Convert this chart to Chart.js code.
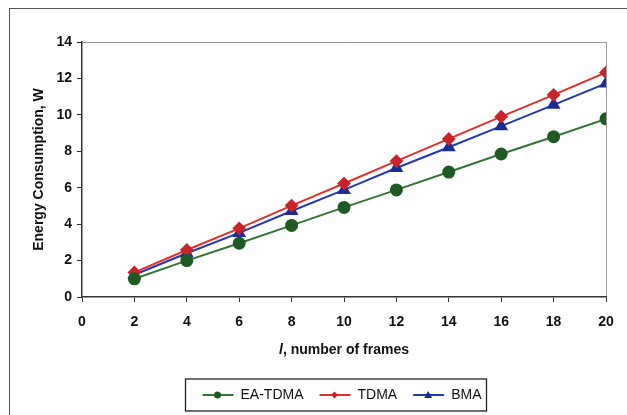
<!DOCTYPE html>
<html>
<head>
<meta charset="utf-8">
<script src="https://cdn.jsdelivr.net/npm/chart.js@4/dist/chart.umd.min.js"></script>
<style>
    html, body { margin: 0; padding: 0; background: #fff; overflow: hidden; }
    #wrap { position: relative; width: 627px; height: 415px; overflow: hidden; }
    #frame { position: absolute; left: 9px; top: 8px; width: 700px; height: 420px; border-top: 1.5px solid #555; border-left: 1.5px solid #555; box-sizing: border-box; }
    canvas { position: absolute; left: 0; top: 0; }
</style>
</head>
<body>
<div id="wrap">
    <div id="frame"></div>
    <canvas id="grafico1" width="627" height="415"></canvas>
</div>
<script>
const frames = [2, 4, 6, 8, 10, 12, 14, 16, 18, 20];
const eaTdma = [1.0, 2.0, 2.95, 3.93, 4.92, 5.88, 6.86, 7.85, 8.8, 9.78];
const tdma = [1.35, 2.58, 3.77, 5.02, 6.23, 7.46, 8.68, 9.9, 11.1, 12.33];
const bma = [1.22, 2.4, 3.52, 4.72, 5.88, 7.08, 8.22, 9.38, 10.55, 11.72];
const seriesNames = ['EA-TDMA', 'TDMA', 'BMA'];
const yTicks = [0, 2, 4, 6, 8, 10, 12, 14];
const xTicks = [0, 2, 4, 6, 8, 10, 12, 14, 16, 18, 20];

const fontFam = '"Liberation Sans Narrow", "Liberation Sans", Arial, sans-serif';

function pts(vals) {
    return frames.map((f, i) => ({ x: f, y: vals[i] }));
}

// mueve la leyenda para centrarla bajo el area del grafico
const legendShift = {
    id: 'legendShift',
    afterLayout(chart) {
        const lg = chart.legend;
        if (!lg) return;
        const a = chart.chartArea;
        const dx = (a.left + a.right) / 2 - (lg.left + lg.right) / 2 - 2;
        lg.left += dx;
        lg.right += dx;
        lg.legendHitBoxes.forEach(b => { b.left += dx; });
    }
};

// caja alrededor de la leyenda y marcadores sobre las lineas
const legendBox = {
    id: 'legendBox',
    afterDraw(chart) {
        const lg = chart.legend;
        if (!lg || !lg.legendHitBoxes.length) return;
        const c = chart.ctx;
        const boxes = lg.legendHitBoxes;
        const first = boxes[0], last = boxes[boxes.length - 1];
        c.save();
        c.strokeStyle = '#222';
        c.lineWidth = 1.3;
        c.strokeRect(first.left - 17, first.top - 9, last.left + last.width - first.left + 22, first.height + 18);
        boxes.forEach((b, i) => {
            const ds = chart.data.datasets[i];
            const cx = b.left + 15, cy = b.top + b.height / 2;
            c.fillStyle = ds.pointBackgroundColor;
            c.beginPath();
            if (ds.pointStyle === 'circle') {
                c.arc(cx, cy, 3.5, 0, Math.PI * 2);
            } else if (ds.pointStyle === 'rectRot') {
                c.moveTo(cx, cy - 3.5); c.lineTo(cx + 3.5, cy); c.lineTo(cx, cy + 3.5); c.lineTo(cx - 3.5, cy);
            } else {
                c.moveTo(cx, cy - 4); c.lineTo(cx + 4, cy + 3); c.lineTo(cx - 4, cy + 3);
            }
            c.closePath();
            c.fill();
        });
        c.restore();
    }
};

// titulo del eje x con la l en cursiva
const xTitle = {
    id: 'xTitle',
    afterDraw(chart) {
        const c = chart.ctx;
        const a = chart.chartArea;
        const cx = (a.left + a.right) / 2;
        const y = 350;
        c.save();
        c.fillStyle = '#111';
        c.textBaseline = 'middle';
        const f1 = 'italic bold 14px ' + fontFam;
        const f2 = 'bold 14px ' + fontFam;
        c.font = f1;
        const w1 = c.measureText('l').width;
        c.font = f2;
        const rest = ', number of frames';
        const w2 = c.measureText(rest).width;
        const x0 = cx - (w1 + w2) / 2;
        c.font = f1;
        c.textAlign = 'left';
        c.fillText('l', x0, y);
        c.font = f2;
        c.fillText(rest, x0 + w1, y);
        c.restore();
    }
};

const ctx = document.getElementById('grafico1').getContext('2d');
const grafico1 = new Chart(ctx, {
    type: 'line',
    data: {
        datasets: [{
            label: seriesNames[0],
            data: pts(eaTdma),
            borderColor: '#347534',
            backgroundColor: '#347534',
            pointBackgroundColor: '#1f5a22',
            pointBorderColor: '#1f5a22',
            pointStyle: 'circle',
            pointRadius: 5.5,
            borderWidth: 2
        }, {
            label: seriesNames[1],
            data: pts(tdma),
            borderColor: '#e0302c',
            backgroundColor: '#e0302c',
            pointBackgroundColor: '#c8242a',
            pointBorderColor: '#c8242a',
            pointStyle: 'rectRot',
            pointRadius: 5.5,
            borderWidth: 2
        }, {
            label: seriesNames[2],
            data: pts(bma),
            borderColor: '#2438b0',
            backgroundColor: '#2438b0',
            pointBackgroundColor: '#1c2c96',
            pointBorderColor: '#1c2c96',
            pointStyle: 'triangle',
            pointRadius: 6,
            borderWidth: 2
        }]
    },
    options: {
        responsive: false,
        animation: false,
        layout: { padding: { left: 31, right: 21, top: 42, bottom: 3 } },
        plugins: {
            tooltip: { enabled: false },
            legend: {
                position: 'bottom',
                labels: {
                    boxWidth: 31,
                    boxHeight: 0,
                    padding: 16,
                    color: '#111',
                    font: { family: fontFam, size: 14 }
                }
            }
        },
        scales: {
            x: {
                type: 'linear',
                min: 0,
                max: 20,
                afterFit: s => { s.height = 75; },
                afterBuildTicks: s => { s.ticks = xTicks.map(v => ({ value: v })); },
                border: { color: '#333', width: 1.5 },
                grid: {
                    drawOnChartArea: true,
                    color: c => (c.tick && c.tick.value === 20) ? '#999' : 'rgba(0,0,0,0)',
                    tickColor: '#333',
                    tickLength: 5
                },
                ticks: {
                    color: '#111',
                    padding: 12,
                    maxRotation: 0,
                    font: { family: fontFam, size: 14, weight: 'bold' }
                }
            },
            y: {
                min: 0,
                max: 14,
                afterFit: s => { s.width = 51; },
                afterBuildTicks: s => { s.ticks = yTicks.map(v => ({ value: v })); },
                border: { color: '#333', width: 1.5 },
                grid: {
                    color: c => (c.tick && c.tick.value === 14) ? '#999' : 'rgba(0,0,0,0)',
                    tickColor: '#333',
                    tickLength: 5
                },
                ticks: {
                    color: '#111',
                    padding: 5,
                    font: { family: fontFam, size: 14, weight: 'bold' }
                },
                title: {
                    display: true,
                    text: 'Energy Consumption, W',
                    color: '#111',
                    padding: { top: 0, bottom: 2 },
                    font: { family: fontFam, size: 14, weight: 'bold' }
                }
            }
        }
    },
    plugins: [legendShift, legendBox, xTitle]
});
</script>
</body>
</html>
